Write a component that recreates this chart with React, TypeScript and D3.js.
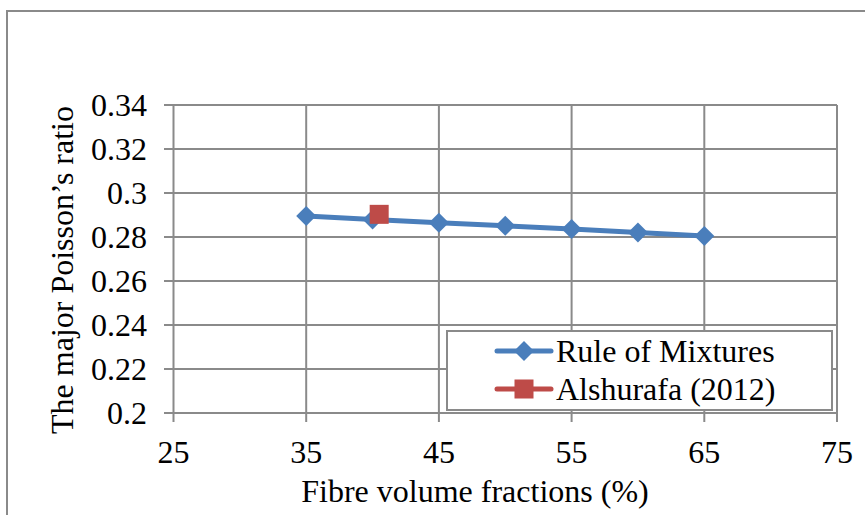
import React from "react";
import * as d3 from "d3";

// Fibre volume fraction (%) and major Poisson's ratio
const fractions = [35, 40, 45, 50, 55, 60, 65];
const ruleOfMixtures = [0.2895, 0.288, 0.2865, 0.2851, 0.2836, 0.282, 0.2805];
const alshurafaX = [40.5];
const alshurafaY = [0.2903];
const xTicks = [25, 35, 45, 55, 65, 75];
const yTicks = [0.2, 0.22, 0.24, 0.26, 0.28, 0.3, 0.32, 0.34];
const seriesNames = ["Rule of Mixtures", "Alshurafa (2012)"];

const W = 865;
const H = 515;
const FONT = "'Liberation Serif', 'Times New Roman', serif";
const GRID = "#8a8a8a";
const BLUE = "#4a7ebb";
const RED = "#be4b48";

export default function App() {
  const x = d3.scaleLinear().domain([25, 75]).range([173.5, 837]);
  const y = d3.scaleLinear().domain([0.2, 0.34]).range([413, 105]);

  const line = d3
    .line<number>()
    .x((_, i) => x(fractions[i]))
    .y((d) => y(d));

  const diamond = (cx: number, cy: number, r: number) =>
    `M${cx},${cy - r}L${cx + r},${cy}L${cx},${cy + r}L${cx - r},${cy}Z`;

  const legendX = 447;
  const legendY = 331;
  const legendW = 385;
  const legendH = 79;
  const rowY = [351, 389];

  return (
    <svg
      width={W}
      height={H}
      style={{ position: "absolute", left: 0, top: 0, background: "#fff" }}
      fontFamily={FONT}
    >
      {/* chart frame */}
      <rect x={7} y={11} width={W + 20} height={H + 20} fill="#fff" stroke={GRID} strokeWidth={2} />

      {/* horizontal gridlines with ticks */}
      {yTicks.map((t) => (
        <line key={`h${t}`} x1={164} x2={x(75)} y1={y(t)} y2={y(t)} stroke={GRID} strokeWidth={2} />
      ))}
      {/* vertical gridlines with ticks */}
      {xTicks.map((t) => (
        <line key={`v${t}`} x1={x(t)} x2={x(t)} y1={y(0.34)} y2={y(0.2) + 9} stroke={GRID} strokeWidth={2} />
      ))}

      {/* y tick labels */}
      {yTicks.map((t) => (
        <text
          key={`yl${t}`}
          x={147}
          y={y(t) + 11}
          fontSize={32}
          textAnchor="end"
          fill="#000"
        >
          {d3.format("~g")(+t.toFixed(2))}
        </text>
      ))}
      {/* x tick labels */}
      {xTicks.map((t) => (
        <text key={`xl${t}`} x={x(t)} y={463} fontSize={32} textAnchor="middle" fill="#000">
          {t}
        </text>
      ))}

      {/* axis titles */}
      <text x={475} y={502} fontSize={32} textAnchor="middle" fill="#000">
        Fibre volume fractions (%)
      </text>
      <text
        transform={`translate(73,270) rotate(-90)`}
        fontSize={32}
        textAnchor="middle"
        fill="#000"
      >
        The major Poisson’s ratio
      </text>

      {/* Rule of Mixtures series */}
      <path d={line(ruleOfMixtures) ?? ""} fill="none" stroke={BLUE} strokeWidth={5} strokeLinejoin="round" />
      {ruleOfMixtures.map((v, i) => (
        <path key={`d${i}`} d={diamond(x(fractions[i]), y(v), 10)} fill={BLUE} />
      ))}

      {/* Alshurafa (2012) point */}
      {alshurafaY.map((v, i) => (
        <rect
          key={`s${i}`}
          x={x(alshurafaX[i]) - 9.5}
          y={y(v) - 9.5}
          width={19}
          height={19}
          fill={RED}
        />
      ))}

      {/* legend */}
      <rect x={legendX} y={legendY} width={legendW} height={legendH} fill="#fff" stroke={GRID} strokeWidth={2} />
      <line x1={497} x2={551} y1={rowY[0]} y2={rowY[0]} stroke={BLUE} strokeWidth={5} strokeLinecap="round" />
      <path d={diamond(524, rowY[0], 10)} fill={BLUE} />
      <line x1={497} x2={551} y1={rowY[1]} y2={rowY[1]} stroke={RED} strokeWidth={5} strokeLinecap="round" />
      <rect x={524 - 9.5} y={rowY[1] - 9.5} width={19} height={19} fill={RED} />
      {seriesNames.map((n, i) => (
        <text key={n} x={556} y={rowY[i] + 11} fontSize={32} fill="#000">
          {n}
        </text>
      ))}
    </svg>
  );
}
